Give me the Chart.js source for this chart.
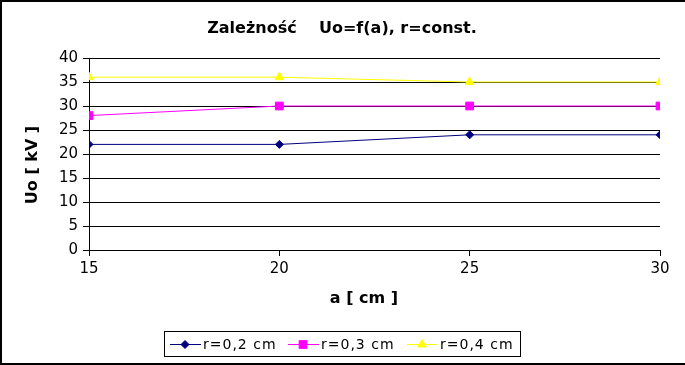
<!DOCTYPE html>
<html>
<head>
<meta charset="utf-8">
<script src="https://cdn.jsdelivr.net/npm/chart.js@4"></script>
<style>
  html, body { margin: 0; padding: 0; background: #fff; }
  #wrap { width: 685px; height: 365px; }
</style>
</head>
<body>
<div id="wrap"><canvas id="myChart" width="685" height="365"></canvas></div>
<script>
  const aValues = [15, 20, 25, 30];
  const seriesNames = ['r=0,2 cm', 'r=0,3 cm', 'r=0,4 cm'];
  const uo02 = [22, 22, 24, 24];
  const uo03 = [28, 30, 30, 30];
  const uo04 = [36, 36, 35, 35];
  const colors = ['#000080', '#ff00ff', '#ffff00'];
  const styles = ['rectRot', 'rect', 'triangle'];
  const radii = [4, 5.5, 5];

  const toPoints = (ys) => ys.map((y, i) => ({ x: aValues[i], y: y }));
  const allSeries = [uo02, uo03, uo04];

  const font = 'DejaVu Sans';

  // frame, titles and legend box drawn by hand
  const extras = {
    id: 'extras',
    afterDraw(chart) {
      const c = chart.ctx;
      c.save();
      c.strokeStyle = '#000';
      c.lineWidth = 2;
      c.beginPath();
      c.moveTo(1, 364); c.lineTo(1, 1); c.lineTo(685, 1);
      c.moveTo(0, 364); c.lineTo(685, 364);
      c.stroke();

      // chart title
      c.fillStyle = '#000';
      c.font = 'bold 16px ' + font;
      c.textAlign = 'center';
      c.textBaseline = 'alphabetic';
      c.fillText('Zależność    Uo=f(a), r=const.', 342, 33);

      // axis titles
      c.textBaseline = 'middle';
      c.fillText('a [ cm ]', 364, 299);
      c.save();
      c.translate(33, 165);
      c.rotate(-Math.PI / 2);
      c.fillText('Uo [ kV ]', 0, 0);
      c.restore();

      // legend
      c.lineWidth = 1;
      c.strokeStyle = '#000';
      c.strokeRect(164.5, 331.5, 356, 25);
      const starts = [170, 288, 407];
      c.font = '14px ' + font;
      c.textAlign = 'left';
      c.letterSpacing = '1px';
      starts.forEach((sx, i) => {
        const y = 344;
        c.strokeStyle = colors[i];
        c.fillStyle = colors[i];
        c.beginPath(); c.moveTo(sx, y + 0.5); c.lineTo(sx + 31, y + 0.5); c.stroke();
        Chart.helpers.drawPoint(c, {
          pointStyle: styles[i], radius: radii[i], rotation: 0, borderWidth: 1
        }, sx + 15, y + 0.5);
        c.fillStyle = '#000';
        c.fillText(seriesNames[i], sx + 33, y + 1);
      });
      c.restore();
    }
  };

  const ctx = document.getElementById('myChart');

  new Chart(ctx, {
    type: 'line',
    data: {
      datasets: allSeries.map((s, i) => ({
        label: seriesNames[i],
        data: toPoints(s),
        borderColor: colors[i],
        backgroundColor: colors[i],
        borderWidth: 1,
        pointStyle: styles[i],
        pointRadius: radii[i],
        pointBorderWidth: 1,
        tension: 0
      }))
    },
    options: {
      responsive: false,
      animation: false,
      layout: { padding: { left: 0, top: 58, right: 25, bottom: 0 } },
      plugins: {
        legend: { display: false },
        tooltip: { enabled: false },
        title: { display: false }
      },
      scales: {
        x: {
          type: 'linear',
          min: 15, max: 30,
          ticks: { stepSize: 5, color: '#000', padding: 4, font: { family: font, size: 15 } },
          grid: { drawOnChartArea: false, color: '#000', tickLength: 6 },
          border: { color: '#000' },
          afterFit(scale) { scale.height = 115; }
        },
        y: {
          min: 0, max: 40,
          ticks: { stepSize: 5, color: '#000', padding: 5, font: { family: font, size: 15 } },
          grid: { color: '#000', tickLength: 6 },
          border: { color: '#000' },
          afterFit(scale) { scale.width = 89; }
        }
      }
    },
    plugins: [extras]
  });
</script>
</body>
</html>
